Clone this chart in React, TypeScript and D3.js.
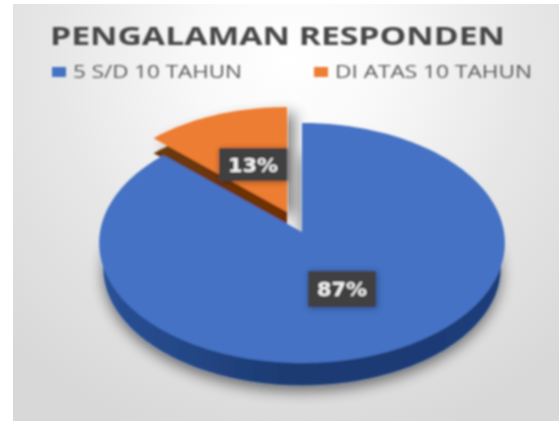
import React from "react";
import * as d3 from "d3";

const title = "PENGALAMAN RESPONDEN";
const categories = ["5 S/D 10 TAHUN", "DI ATAS 10 TAHUN"];
const values = [87, 13];
const topColors = ["#4472c4", "#ed7d31"];
const W = 559;
const H = 421;

type Pt = [number, number];
// Perspective view of a tilted disc: the disc's centre sits above the middle of its ellipse.
const K = 0.0917;
const project = (a: number, ox: number, oy: number, s: number): Pt => {
  const d = 1 + K * Math.cos(a);
  return [ox + (s * 202 * Math.sin(a)) / d, oy - (s * 119 * Math.cos(a)) / d];
};
const slices = d3.pie<number>().sort(null).startAngle(0).endAngle(2 * Math.PI)(values);
const line = d3.line<Pt>();
const wedge = (i: number, ox: number, oy: number, s: number) => {
  const { startAngle: a0, endAngle: a1 } = slices[i];
  const n = Math.ceil((a1 - a0) * 40);
  const rim = d3.range(n + 1).map((k) => project(a0 + ((a1 - a0) * k) / n, ox, oy, s));
  return line([[ox, oy], ...rim])! + "Z";
};

const blue = { x: 302, y: 232, s: 1 };
const blueSide = { x: 302, y: 257, s: 0.98 };
const orange = { x: 287, y: 212, s: 0.963 };
const orangeSide = { x: 287, y: 227, s: 0.963 };

const labelBoxes = [
  { x: 308, y: 271, w: 68, h: 36 },
  { x: 219, y: 148, w: 68, h: 33 },
];

export default function App() {
  return (
    <svg width={W} height={H} style={{ position: "fixed", left: 0, top: 0, background: "#fff" }}>
      <defs>
        <radialGradient id="bg" gradientUnits="userSpaceOnUse" cx={290} cy={60} r={400}>
          <stop offset="0" stopColor="#ffffff" />
          <stop offset="0.25" stopColor="#f8f8f8" />
          <stop offset="0.6" stopColor="#e6e6e6" />
          <stop offset="1" stopColor="#d8d8d8" />
        </radialGradient>
        <linearGradient id="blueDepth" x1="0" x2="1" y1="0" y2="0">
          <stop offset="0" stopColor="#2a5196" />
          <stop offset="0.45" stopColor="#1c3b73" />
          <stop offset="1" stopColor="#1d3c78" />
        </linearGradient>
        <linearGradient id="orangeDepth" x1="0" x2="1" y1="0" y2="0">
          <stop offset="0" stopColor="#6b3b12" />
          <stop offset="1" stopColor="#6f2f00" />
        </linearGradient>
        <filter id="soft" x="-5%" y="-5%" width="110%" height="110%">
          <feGaussianBlur stdDeviation="0.9" />
        </filter>
        <filter id="shadow" x="-20%" y="-20%" width="140%" height="140%">
          <feGaussianBlur stdDeviation="7" />
        </filter>
        <filter id="boxShadow" x="-30%" y="-30%" width="160%" height="160%">
          <feGaussianBlur stdDeviation="3" />
        </filter>
      </defs>
      <rect x={13} y={4} width={W - 13} height={H - 4} fill="url(#bg)" />
      <g filter="url(#soft)">
        <text x={50} y={45} textLength={455} lengthAdjust="spacingAndGlyphs" fontFamily="'Open Sans'" fontWeight={700} fontSize={25} fill="#474747">
          {title}
        </text>
        {[
          { sx: 52, tx: 73, len: 169 },
          { sx: 314, tx: 335, len: 197 },
        ].map((l, i) => (
          <g key={i}>
            <rect x={l.sx} y={67} width={14} height={10} fill={topColors[i]} />
            <text x={l.tx} y={78} textLength={l.len} lengthAdjust="spacingAndGlyphs" fontFamily="'Open Sans'" fontSize={19} fill="#595959">
              {categories[i]}
            </text>
          </g>
        ))}

        <path d={wedge(0, blueSide.x, blueSide.y + 6, blueSide.s)} fill="#000" opacity={0.5} filter="url(#shadow)" />
        <path d={wedge(1, orange.x + 8, orange.y + 6, orange.s)} fill="#000" opacity={0.45} filter="url(#shadow)" />

        <path d={wedge(1, orangeSide.x, orangeSide.y, orangeSide.s)} fill="url(#orangeDepth)" />
        <path d={wedge(1, orange.x, orange.y, orange.s)} fill={topColors[1]} />

        <path d={wedge(0, blueSide.x, blueSide.y, blueSide.s)} fill="url(#blueDepth)" />
        <path d={wedge(0, blue.x, blue.y, blue.s)} fill={topColors[0]} />

        {slices.map((sl, i) => {
          const b = labelBoxes[i];
          return (
            <g key={i}>
              <rect x={b.x + 1} y={b.y + 1} width={b.w} height={b.h} fill="#000" opacity={0.35} filter="url(#boxShadow)" />
              <rect x={b.x} y={b.y} width={b.w} height={b.h} fill="#404040" />
              <text
                x={b.x + b.w / 2 - 25}
                y={b.y + b.h / 2 + 7}
                textLength={50}
                lengthAdjust="spacingAndGlyphs"
                fontFamily="'DejaVu Sans'"
                fontWeight={700}
                fontSize={19}
                fill="#f2f2f2"
              >
                {`${sl.value}%`}
              </text>
            </g>
          );
        })}
      </g>
    </svg>
  );
}
